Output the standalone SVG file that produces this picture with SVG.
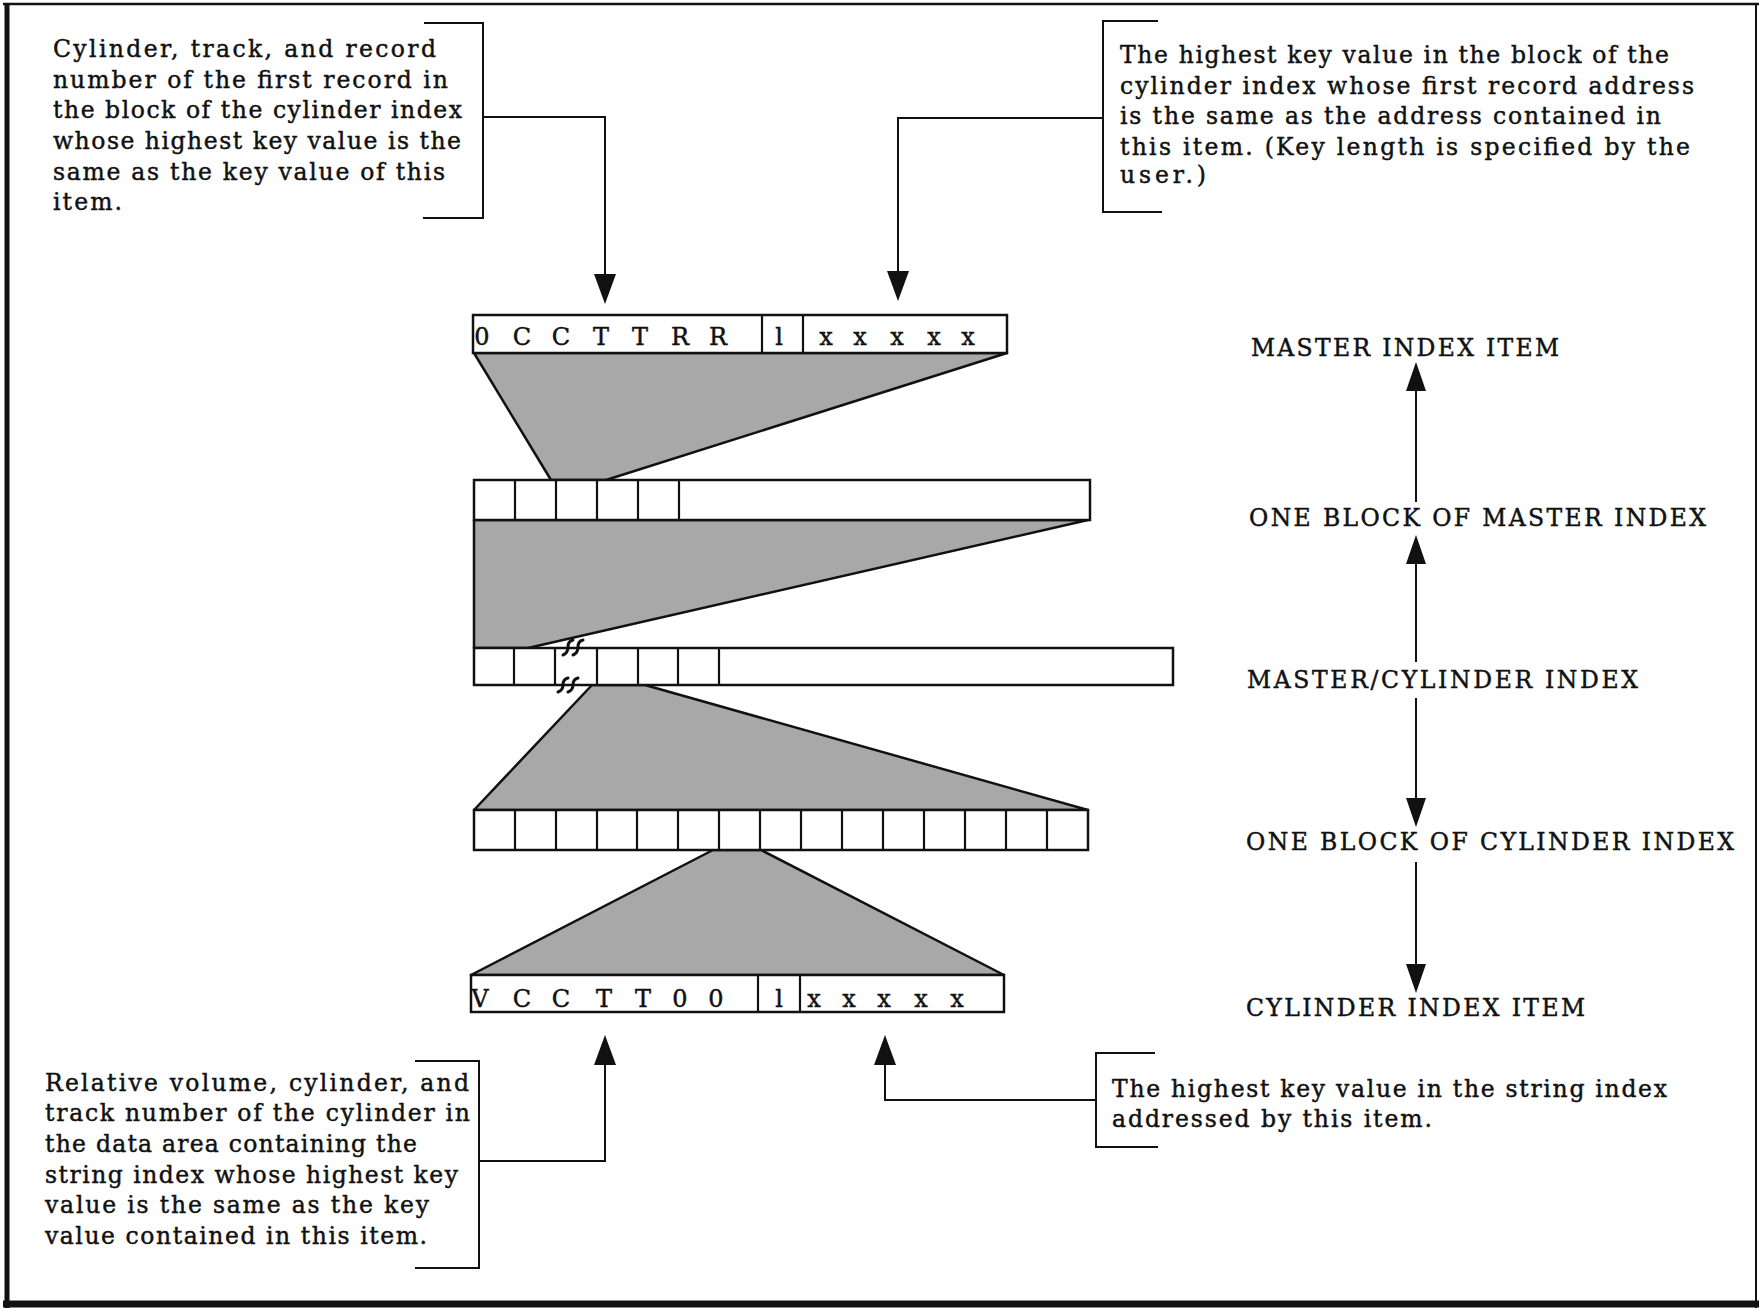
<svg xmlns="http://www.w3.org/2000/svg" width="1759" height="1311" viewBox="0 0 1759 1311">
<defs>
<style>
.t{font-family:"DejaVu Serif","Liberation Serif",serif;font-size:23.5px;fill:#111;stroke:#111;stroke-width:0.45}
.lab{font-family:"DejaVu Serif","Liberation Serif",serif;font-size:23.5px;fill:#111;stroke:#111;stroke-width:0.45}
.ch{font-family:"DejaVu Serif","Liberation Serif",serif;font-size:24px;fill:#111;stroke:#111;stroke-width:0.45;text-anchor:middle}
.box{fill:#fff;stroke:#111;stroke-width:2.5}
.cell{stroke:#111;stroke-width:2.2;fill:none}
.tri{fill:#a8a8a8;stroke:#111;stroke-width:2.5;stroke-linejoin:round}
.br{fill:none;stroke:#111;stroke-width:2}
.ln{fill:none;stroke:#111;stroke-width:2}
.ah{fill:#111}
.brk{fill:none;stroke:#111;stroke-width:3;stroke-linecap:round}
.frame{stroke:#111;fill:none}
</style>
</defs>
<rect x="0" y="0" width="1759" height="1311" fill="#fff"/>
<g id="frame">
<line class="frame" x1="3" y1="4" x2="1759" y2="4" stroke-width="2.5"/>
<line class="frame" x1="7" y1="4" x2="7" y2="1308" stroke-width="5"/>
<line class="frame" x1="3" y1="1304" x2="1759" y2="1304" stroke-width="7"/>
<line class="frame" x1="1756" y1="4" x2="1756" y2="1308" stroke-width="2"/>
</g>

<g id="shading">
<polygon class="tri" points="474,353 1007,353 606,480 551,480"/>
<polygon class="tri" points="474,520 1088,520 528,648 474,648"/>
<polygon class="tri" points="592,685 645,685 1088,810 474,810"/>
<polygon class="tri" points="713,850 761,850 1004,975 471,975"/>
</g>

<g id="master-index-item">
<rect class="box" x="473" y="315" width="534" height="38"/>
<line class="cell" x1="762" y1="315" x2="762" y2="353"/>
<line class="cell" x1="803" y1="315" x2="803" y2="353"/>
<text class="ch" x="482 501 522 541 561 580 601 620 640 659 680 699 718" y="345">0 C C T T R R</text>
<text class="ch" x="779" y="345">l</text>
<text class="ch" x="826 843 860 878 897 915 934 951 968" y="345">x x x x x</text>
</g>

<g id="master-index-block">
<rect class="box" x="474" y="480" width="616" height="40"/>
<line class="cell" x1="515" y1="480" x2="515" y2="520"/>
<line class="cell" x1="556" y1="480" x2="556" y2="520"/>
<line class="cell" x1="597" y1="480" x2="597" y2="520"/>
<line class="cell" x1="638" y1="480" x2="638" y2="520"/>
<line class="cell" x1="679" y1="480" x2="679" y2="520"/>
</g>

<g id="master-cylinder-index">
<rect class="box" x="474" y="648" width="699" height="37"/>
<line class="cell" x1="514" y1="648" x2="514" y2="685"/>
<line class="cell" x1="555" y1="648" x2="555" y2="685"/>
<line class="cell" x1="597" y1="648" x2="597" y2="685"/>
<line class="cell" x1="638" y1="648" x2="638" y2="685"/>
<line class="cell" x1="678" y1="648" x2="678" y2="685"/>
<line class="cell" x1="719" y1="648" x2="719" y2="685"/>
<path class="brk" d="M563,655 Q568,653 568,647 Q568,641 573,640"/>
<path class="brk" d="M573,655 Q578,653 578,647 Q578,641 583,640"/>
<path class="brk" d="M558,692 Q563,690 563,685 Q563,679 568,678"/>
<path class="brk" d="M568,692 Q573,690 573,685 Q573,679 578,678"/>
</g>

<g id="cylinder-index-block">
<rect class="box" x="474" y="810" width="614" height="40"/>
<line class="cell" x1="515" y1="810" x2="515" y2="850"/>
<line class="cell" x1="556" y1="810" x2="556" y2="850"/>
<line class="cell" x1="597" y1="810" x2="597" y2="850"/>
<line class="cell" x1="637" y1="810" x2="637" y2="850"/>
<line class="cell" x1="678" y1="810" x2="678" y2="850"/>
<line class="cell" x1="719" y1="810" x2="719" y2="850"/>
<line class="cell" x1="760" y1="810" x2="760" y2="850"/>
<line class="cell" x1="801" y1="810" x2="801" y2="850"/>
<line class="cell" x1="842" y1="810" x2="842" y2="850"/>
<line class="cell" x1="883" y1="810" x2="883" y2="850"/>
<line class="cell" x1="924" y1="810" x2="924" y2="850"/>
<line class="cell" x1="965" y1="810" x2="965" y2="850"/>
<line class="cell" x1="1006" y1="810" x2="1006" y2="850"/>
<line class="cell" x1="1047" y1="810" x2="1047" y2="850"/>
</g>

<g id="cylinder-index-item">
<rect class="box" x="471" y="975" width="533" height="37"/>
<line class="cell" x1="758" y1="975" x2="758" y2="1012"/>
<line class="cell" x1="800" y1="975" x2="800" y2="1012"/>
<text class="ch" x="480 501 522 541 561 582 604 623 643 661 680 698 716" y="1007">V C C T T 0 0</text>
<text class="ch" x="779" y="1007">l</text>
<text class="ch" x="814 831 849 866 884 902 921 939 957" y="1007">x x x x x</text>
</g>

<g id="note-top-left">
<text class="t" x="53" y="57" textLength="383" lengthAdjust="spacing">Cylinder, track, and record</text>
<text class="t" x="53" y="88" textLength="395" lengthAdjust="spacing">number of the first record in</text>
<text class="t" x="53" y="118" textLength="409" lengthAdjust="spacing">the block of the cylinder index</text>
<text class="t" x="53" y="149" textLength="408" lengthAdjust="spacing">whose highest key value is the</text>
<text class="t" x="53" y="180" textLength="392" lengthAdjust="spacing">same as the key value of this</text>
<text class="t" x="53" y="210" textLength="69" lengthAdjust="spacing">item.</text>
<polyline class="br" points="424,23 483,23 483,218 423,218"/>
</g>

<g id="note-top-right">
<text class="t" x="1120" y="63" textLength="549" lengthAdjust="spacing">The highest key value in the block of the</text>
<text class="t" x="1120" y="94" textLength="574" lengthAdjust="spacing">cylinder index whose first record address</text>
<text class="t" x="1120" y="124" textLength="541" lengthAdjust="spacing">is the same as the address contained in</text>
<text class="t" x="1120" y="155" textLength="570" lengthAdjust="spacing">this item. (Key length is specified by the</text>
<text class="t" x="1120" y="183" textLength="86" lengthAdjust="spacing">user.)</text>
<polyline class="br" points="1158,21 1103,21 1103,212 1162,212"/>
</g>

<g id="note-bottom-left">
<text class="t" x="45" y="1091" textLength="424" lengthAdjust="spacing">Relative volume, cylinder, and</text>
<text class="t" x="45" y="1121" textLength="425" lengthAdjust="spacing">track number of the cylinder in</text>
<text class="t" x="45" y="1152" textLength="372" lengthAdjust="spacing">the data area containing the</text>
<text class="t" x="45" y="1183" textLength="413" lengthAdjust="spacing">string index whose highest key</text>
<text class="t" x="45" y="1213" textLength="384" lengthAdjust="spacing">value is the same as the key</text>
<text class="t" x="45" y="1244" textLength="382" lengthAdjust="spacing">value contained in this item.</text>
<polyline class="br" points="415,1061 479,1061 479,1268 415,1268"/>
</g>

<g id="note-bottom-right">
<text class="t" x="1112" y="1097" textLength="555" lengthAdjust="spacing">The highest key value in the string index</text>
<text class="t" x="1112" y="1127" textLength="320" lengthAdjust="spacing">addressed by this item.</text>
<polyline class="br" points="1155,1053 1096,1053 1096,1147 1158,1147"/>
</g>

<g id="levels">
<text class="lab" x="1251" y="356" textLength="308" lengthAdjust="spacing">MASTER INDEX ITEM</text>
<text class="lab" x="1249" y="526" textLength="457" lengthAdjust="spacing">ONE BLOCK OF MASTER INDEX</text>
<text class="lab" x="1247" y="688" textLength="391" lengthAdjust="spacing">MASTER/CYLINDER INDEX</text>
<text class="lab" x="1246" y="850" textLength="488" lengthAdjust="spacing">ONE BLOCK OF CYLINDER INDEX</text>
<text class="lab" x="1246" y="1016" textLength="339" lengthAdjust="spacing">CYLINDER INDEX ITEM</text>
</g>

<g id="connectors">
<polyline class="ln" points="483,117 605,117 605,280"/>
<polygon class="ah" points="594,274 616,274 605,304"/>
<polyline class="ln" points="1103,118 898,118 898,278"/>
<polygon class="ah" points="887,271 909,271 898,301"/>
<polyline class="ln" points="479,1161 605,1161 605,1060"/>
<polygon class="ah" points="594,1065 616,1065 605,1035"/>
<polyline class="ln" points="1096,1100 885,1100 885,1060"/>
<polygon class="ah" points="874,1065 896,1065 885,1035"/>
<line class="ln" x1="1416" y1="385" x2="1416" y2="502"/>
<polygon class="ah" points="1406,391 1426,391 1416,362"/>
<line class="ln" x1="1416" y1="558" x2="1416" y2="662"/>
<polygon class="ah" points="1406,564 1426,564 1416,535"/>
<line class="ln" x1="1416" y1="698" x2="1416" y2="805"/>
<polygon class="ah" points="1406,798 1426,798 1416,827"/>
<line class="ln" x1="1416" y1="862" x2="1416" y2="970"/>
<polygon class="ah" points="1406,964 1426,964 1416,993"/>
</g>
</svg>
